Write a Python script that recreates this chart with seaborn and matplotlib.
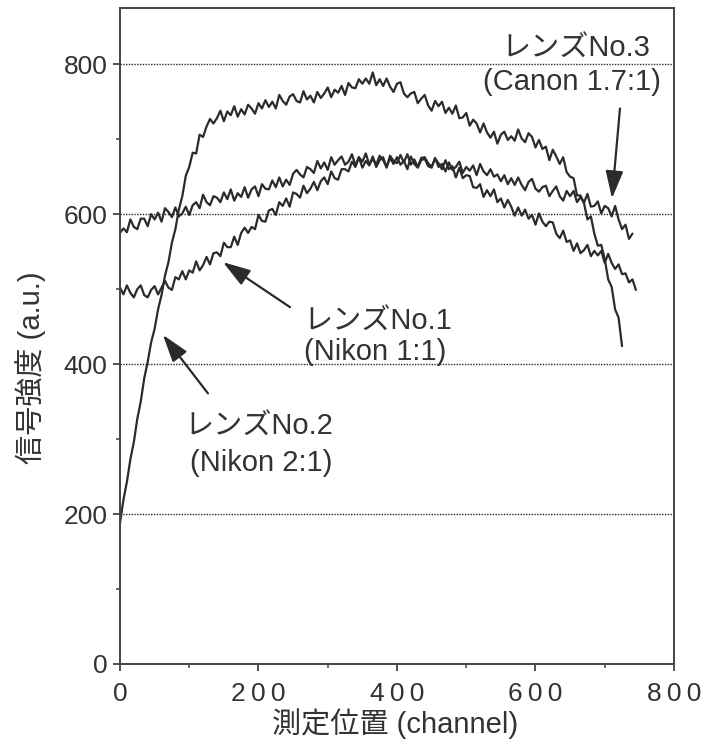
import numpy as np
import pandas as pd
import matplotlib
matplotlib.use("Agg")
import matplotlib.pyplot as plt
from matplotlib.ticker import FuncFormatter
import seaborn as sns

# Intensity profiles sampled every 5 channels
STEP = 5

lens1_nikon_1_1 = [
    502, 493, 505, 495, 489, 500, 505, 492, 489, 499, 504, 493, 502, 511, 502, 499,
    516, 513, 524, 513, 525, 522, 537, 525, 532, 543, 533, 548, 549, 544, 562, 556,
    556, 570, 559, 575, 582, 575, 583, 580, 599, 591, 590, 605, 607, 599, 616, 611,
    621, 610, 629, 627, 622, 638, 628, 634, 643, 632, 644, 649, 640, 657, 648, 646,
    660, 660, 657, 670, 663, 676, 662, 671, 665, 677, 663, 672, 676, 662, 678, 671,
    668, 679, 669, 680, 666, 673, 663, 675, 676, 668, 663, 674, 668, 660, 672, 660,
    664, 649, 662, 648, 652, 651, 636, 635, 640, 623, 632, 624, 633, 616, 621, 609,
    619, 610, 598, 609, 598, 606, 594, 599, 586, 601, 590, 584, 590, 589, 574, 568,
    578, 563, 565, 551, 561, 548, 552, 559, 544, 551, 545, 551, 535, 547, 535, 527,
    533, 520, 521, 509, 513, 499,
]

lens2_nikon_2_1 = [
    188, 219, 243, 273, 296, 327, 350, 381, 403, 429, 447, 473, 492, 518, 536, 562,
    580, 606, 624, 651, 663, 682, 681, 706, 703, 717, 727, 721, 728, 738, 724, 737,
    732, 744, 730, 740, 733, 746, 741, 734, 748, 741, 752, 743, 750, 741, 759, 751,
    746, 757, 760, 751, 749, 764, 753, 758, 749, 763, 755, 761, 769, 756, 766, 762,
    771, 759, 775, 769, 768, 780, 774, 781, 774, 789, 772, 780, 771, 781, 770, 763,
    774, 776, 761, 756, 761, 763, 748, 754, 759, 745, 738, 751, 744, 750, 735, 742,
    734, 745, 728, 729, 735, 718, 726, 721, 709, 721, 709, 702, 710, 694, 706, 710,
    699, 704, 698, 713, 701, 696, 708, 703, 689, 699, 687, 690, 672, 686, 677, 667,
    676, 656, 650, 648, 625, 625, 615, 593, 597, 574, 558, 559, 540, 513, 503, 473,
    462, 424,
]

lens3_canon_1_7_1 = [
    575, 581, 576, 593, 583, 580, 594, 594, 584, 600, 593, 602, 590, 608, 603, 596,
    609, 597, 601, 610, 599, 612, 616, 608, 626, 616, 612, 624, 622, 616, 629, 620,
    633, 618, 628, 623, 636, 622, 633, 637, 624, 640, 634, 633, 645, 636, 649, 637,
    646, 639, 654, 659, 653, 649, 663, 660, 655, 671, 661, 669, 659, 676, 666, 672,
    677, 666, 670, 680, 665, 676, 670, 681, 666, 674, 666, 678, 672, 663, 675, 667,
    676, 666, 671, 660, 677, 667, 662, 672, 674, 664, 662, 675, 663, 667, 657, 669,
    659, 663, 670, 655, 663, 658, 665, 652, 667, 657, 652, 660, 650, 653, 644, 652,
    640, 648, 639, 649, 639, 632, 643, 647, 634, 630, 636, 638, 624, 631, 637, 624,
    618, 631, 624, 631, 616, 623, 615, 627, 610, 611, 617, 601, 611, 608, 597, 611,
    593, 580, 586, 567, 574,
]

series = {
    "No.1": lens1_nikon_1_1,
    "No.2": lens2_nikon_2_1,
    "No.3": lens3_canon_1_7_1,
}

frames = []
for name, vals in series.items():
    frames.append(pd.DataFrame({
        "channel": np.arange(len(vals)) * STEP,
        "intensity": vals,
        "lens": name,
    }))
df = pd.concat(frames, ignore_index=True)

Y_TICKS = [0, 200, 400, 600, 800]
X_TICKS = [0, 200, 400, 600, 800]

sns.set_theme(style="ticks")
plt.rcParams["font.family"] = ["Liberation Sans", "DejaVu Sans", "Noto Sans CJK JP"]

INK = "#2b2b2b"
TEXT = "#333333"
CJK = ["Liberation Sans", "Noto Sans CJK JP"]

fig = plt.figure(figsize=(7.07, 7.48), dpi=100)
ax = fig.add_axes([0.1697, 0.1123, 0.7836, 0.877])

sns.lineplot(
    data=df, x="channel", y="intensity", hue="lens",
    palette=[INK, INK, INK], estimator=None, sort=False,
    linewidth=1.6, legend=False, ax=ax,
)

ax.set_xlim(0, 800)
ax.set_ylim(0, 875)
ax.set_xticks(X_TICKS)
ax.set_yticks(Y_TICKS)
ax.set_xticks([100, 300, 500, 700], minor=True)
ax.set_yticks([100, 300, 500, 700], minor=True)
# widely spaced digits on the channel axis
ax.xaxis.set_major_formatter(FuncFormatter(lambda v, _: "\u2009".join(str(int(v)))))

# dotted reference lines
for y in Y_TICKS[1:]:
    ax.axhline(y, color=INK, linestyle=(0, (1, 1)), linewidth=1.0, zorder=1)

for s in ax.spines.values():
    s.set_color("#444444")
    s.set_linewidth(1.4)
    s.set_visible(True)

ax.tick_params(axis="both", which="major", direction="out", length=5,
               width=1.3, color="#444444", labelsize=19, labelcolor=TEXT)
ax.tick_params(axis="both", which="minor", direction="out", length=3,
               width=1.1, color="#444444")
ax.tick_params(axis="y", which="major", pad=4)
ax.tick_params(axis="x", which="major", pad=8)
ax.tick_params(top=False, right=False, which="both")

ax.set_xlabel("測定位置 (channel)", fontsize=21, color=TEXT, family=CJK)
ax.set_ylabel("信号強度 (a.u.)", fontsize=21, color=TEXT, family=CJK)
ax.xaxis.set_label_coords(0.496, -0.068)
ax.yaxis.set_label_coords(-0.133, 0.452)

txt = dict(fontsize=21, color=TEXT, ha="center", va="center", family=CJK)
ax.text(658, 821, "レンズNo.3", **txt)
ax.text(653, 776, "(Canon 1.7:1)", **txt)
ax.text(373, 456, "レンズNo.1", **txt)
ax.text(368, 416, "(Nikon 1:1)", **txt)
ax.text(201, 316, "レンズNo.2", **txt)
ax.text(204, 268, "(Nikon 2:1)", **txt)

arrow = dict(arrowstyle="-|>,head_length=1.4,head_width=0.45",
             color=INK, lw=1.6, mutation_scale=12, shrinkA=0, shrinkB=0)
ax.annotate("", xy=(148.7, 536), xytext=(245.5, 476), arrowprops=arrow)
ax.annotate("", xy=(62, 439), xytext=(127, 361), arrowprops=arrow)
ax.annotate("", xy=(710.5, 621), xytext=(722, 741), arrowprops=arrow)

fig.savefig("out.png", dpi=100, facecolor="white")
